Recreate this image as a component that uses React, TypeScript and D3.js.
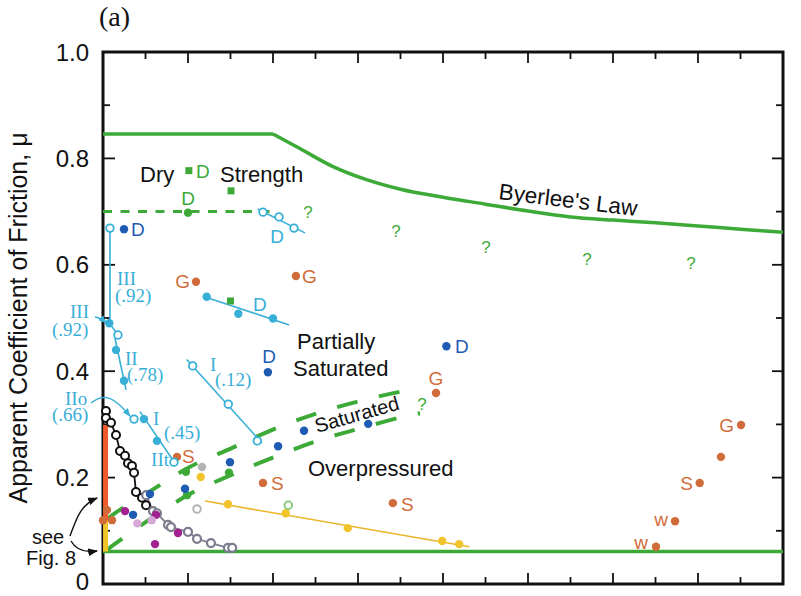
import React from "react";
import * as d3 from "d3";

// ---------------- data (x in 100 MPa units, y = apparent friction) ----------------
const yTickValues = [0, 0.2, 0.4, 0.6, 0.8, 1.0];
const yTickLabels = ["0", "0.2", "0.4", "0.6", "0.8", "1.0"];
const yMinorTicks = [0.1, 0.3, 0.5, 0.7, 0.9];
const xMajorTicks = [1, 2, 3, 4, 5, 6, 7];
const xMinorTicks = [0.5, 1.5, 2.5, 3.5, 4.5, 5.5, 6.5, 7.5];

const byerleeFlat = [[0, 0.846], [2.0, 0.846]];
const byerleeCurve = [[2.0, 0.846], [2.3, 0.82], [2.7, 0.785], [3.1, 0.76], [3.5, 0.742], [4.0, 0.727], [4.5, 0.714], [5.0, 0.701], [5.5, 0.69], [6.0, 0.684], [6.5, 0.679], [7.0, 0.673], [7.5, 0.667], [8.0, 0.661]];
const hydrostatic = [[0, 0.061], [8, 0.061]];
const dryLine = [[0, 0.7], [2.0, 0.7]];
const bandUpper = [[0.04, 0.121], [0.13, 0.132], [0.58, 0.177], [1.02, 0.22], [1.52, 0.256], [2.04, 0.293], [2.54, 0.322], [3.07, 0.346], [3.61, 0.365], [3.73, 0.368]];
const bandLower = [[0.03, 0.062], [0.12, 0.073], [0.48, 0.114], [1.02, 0.169], [1.54, 0.207], [2.05, 0.241], [2.56, 0.271], [3.08, 0.295], [3.62, 0.318], [3.73, 0.321]];

const greenSquares = [[1.01, 0.777], [1.506, 0.739], [1.5, 0.532]];
const greenDots = [[1.0, 0.698], [0.976, 0.211], [0.988, 0.167], [1.482, 0.209]];
const greenOpen = [[2.18, 0.148]];
const blueDots = [[0.247, 0.667], [1.94, 0.398], [4.04, 0.447], [2.365, 0.288], [3.12, 0.301], [2.06, 0.259], [1.494, 0.229], [0.965, 0.179], [0.553, 0.169], [0.353, 0.13]];
const orangeDots = [[1.094, 0.568], [2.27, 0.579], [3.918, 0.359], [0.871, 0.239], [1.882, 0.19], [3.41, 0.152], [7.506, 0.299], [7.27, 0.239], [7.02, 0.19], [6.73, 0.118], [6.506, 0.07], [0.047, 0.139], [0.0, 0.12], [0.106, 0.12]];
const yellowDots = [[1.15, 0.201]];
const lightGrayDots = [[1.165, 0.22]];
const lightGrayOpen = [[1.106, 0.141]];
const purpleDots = [[0.259, 0.137], [0.624, 0.13], [0.882, 0.096], [0.612, 0.075]];
const pinkDots = [[0.404, 0.114], [0.573, 0.12]];

const redBar = [[0.03, 0.12], [0.03, 0.299]];
const yellowBar = [[0.03, 0.061], [0.03, 0.12]];

// cyan series
const cyanTopLine = [[1.82, 0.705], [2.376, 0.66]];
const cyanTopOpen = [[1.882, 0.699], [2.071, 0.69], [2.247, 0.669]];
const cyanMidLine = [[1.176, 0.541], [2.19, 0.487]];
const cyanMidFilled = [[1.22, 0.54], [1.592, 0.508], [2.0, 0.499]];
const cyanIIILine = [[0.082, 0.669], [0.082, 0.489], [0.176, 0.468]];
const cyanIIIOpen = [[0.082, 0.669], [0.176, 0.468]];
const cyanIIIFilled = [[0.074, 0.49]];
const cyanIILine = [[0.141, 0.462], [0.271, 0.365]];
const cyanIIFilled = [[0.153, 0.44], [0.247, 0.382]];
const cyanI12Line = [[0.985, 0.422], [1.87, 0.265]];
const cyanI12Open = [[1.055, 0.41], [1.474, 0.338], [1.815, 0.269]];
const cyanI45Line = [[0.435, 0.324], [0.847, 0.227]];
const cyanI45Open = [[0.365, 0.31], [0.835, 0.229]];
const cyanI45Filled = [[0.482, 0.31], [0.635, 0.269]];

// black & gray experimental series
const blackSeries = [[0.035, 0.325], [0.035, 0.312], [0.094, 0.303], [0.153, 0.28], [0.2, 0.25], [0.259, 0.241], [0.294, 0.227], [0.341, 0.222], [0.365, 0.209], [0.388, 0.173], [0.459, 0.162], [0.506, 0.148]];
const graySeries = [[0.508, 0.167], [0.588, 0.137], [0.635, 0.133], [0.765, 0.111], [0.8, 0.107], [1.0, 0.098], [1.106, 0.085], [1.27, 0.077], [1.47, 0.068], [1.52, 0.068]];

// yellow series
const yellowLine = [[1.2, 0.156], [4.31, 0.07]];
const yellowFilled = [[1.47, 0.15], [2.15, 0.133], [2.88, 0.105], [3.99, 0.081], [4.19, 0.075]];

// ---------------- layout ----------------
const W = 801;
const H = 596;
const L = 103, R = 783, T = 52, B = 584;

const x = d3.scaleLinear().domain([0, 8]).range([L, R]);
const y = d3.scaleLinear().domain([0, 1]).range([B, T]);
const line = d3.line<number[]>().x((d) => x(d[0])).y((d) => y(d[1]));
const smooth = d3.line<number[]>().x((d) => x(d[0])).y((d) => y(d[1])).curve(d3.curveMonotoneX);
const smoothBand = d3.line<number[]>().x((d) => x(d[0])).y((d) => y(d[1])).curve(d3.curveCatmullRom);

const GREEN = "#3DAA38";
const CYAN = "#38AFD6";
const BLUE = "#1E5CB3";
const ORANGE = "#D06C3A";
const REDBAR = "#F05A2C";
const YELLOW = "#F2C42C";
const YLINE = "#EAB52A";
const PURPLE = "#A3228F";
const PINK = "#D5A8D8";
const GRAY = "#7C7C8E";
const LGRAY = "#B4B4B4";

const SANS = "'Liberation Sans', Arial, Helvetica, sans-serif";
const SERIF = "'Liberation Serif', 'Times New Roman', serif";

function Dots({ data, r = 4.2, fill, stroke = "none", sw = 0 }: any) {
  return (
    <g>
      {data.map((d: number[], i: number) => (
        <circle key={i} cx={x(d[0])} cy={y(d[1])} r={r} fill={fill} stroke={stroke} strokeWidth={sw} />
      ))}
    </g>
  );
}
function Open({ data, r = 3.8, color, sw = 1.8 }: any) {
  return <Dots data={data} r={r} fill="#fff" stroke={color} sw={sw} />;
}
function Squares({ data, s = 7, fill }: any) {
  return (
    <g>
      {data.map((d: number[], i: number) => (
        <rect key={i} x={x(d[0]) - s / 2} y={y(d[1]) - s / 2} width={s} height={s} fill={fill} />
      ))}
    </g>
  );
}
function Path({ data, gen = line, color, sw = 2, dash }: any) {
  return <path d={gen(data) || ""} fill="none" stroke={color} strokeWidth={sw} strokeDasharray={dash} />;
}
function Txt({ px, py, children, size = 19, color = "#111", anchor = "start", font = SANS, rotate = 0 }: any) {
  return (
    <text
      x={0}
      y={0}
      transform={`translate(${px},${py}) rotate(${rotate})`}
      fontSize={size}
      fill={color}
      textAnchor={anchor}
      fontFamily={font}
    >
      {children}
    </text>
  );
}

export default function App() {
  return (
    <svg width={W} height={H} style={{ position: "absolute", left: 0, top: 0, background: "#fff" }}>
      <defs>
        <marker id="arrK" viewBox="0 0 10 10" refX="9" refY="5" markerWidth="7" markerHeight="7" orient="auto">
          <path d="M0,1 L10,5 L0,9 z" fill="#111" />
        </marker>
        <marker id="arrC" viewBox="0 0 10 10" refX="9" refY="5" markerWidth="6" markerHeight="6" orient="auto">
          <path d="M0,1 L10,5 L0,9 z" fill={CYAN} />
        </marker>
      </defs>
      <rect x={0} y={0} width={W} height={H} fill="#fff" />

      {/* title */}
      <Txt px={99} py={26} size={28} font={SERIF}>(a)</Txt>

      {/* frame & ticks */}
      <rect x={L} y={T} width={R - L} height={B - T} fill="none" stroke="#111" strokeWidth={3} />
      {yTickValues.map((v, i) => (
        <g key={"yt" + i}>
          <line x1={L} x2={L + 12} y1={y(v)} y2={y(v)} stroke="#111" strokeWidth={1.8} />
          <line x1={R} x2={R - 11} y1={y(v)} y2={y(v)} stroke="#111" strokeWidth={1.8} />
          <text x={89} y={Math.min(y(v) + 8.5, 590)} textAnchor="end" fontSize={24} fontFamily={SANS} fill="#111">
            {yTickLabels[i]}
          </text>
        </g>
      ))}
      {yMinorTicks.map((v, i) => (
        <g key={"ym" + i}>
          <line x1={L} x2={L + 7} y1={y(v)} y2={y(v)} stroke="#111" strokeWidth={1.8} />
          <line x1={R} x2={R - 7} y1={y(v)} y2={y(v)} stroke="#111" strokeWidth={1.8} />
        </g>
      ))}
      {xMajorTicks.map((v, i) => (
        <g key={"xt" + i}>
          <line x1={x(v)} x2={x(v)} y1={B} y2={B - 11} stroke="#111" strokeWidth={1.8} />
          <line x1={x(v)} x2={x(v)} y1={T} y2={T + 11} stroke="#111" strokeWidth={1.8} />
        </g>
      ))}
      {xMinorTicks.map((v, i) => (
        <g key={"xm" + i}>
          <line x1={x(v)} x2={x(v)} y1={B} y2={B - 7} stroke="#111" strokeWidth={1.8} />
          <line x1={x(v)} x2={x(v)} y1={T} y2={T + 7} stroke="#111" strokeWidth={1.8} />
        </g>
      ))}

      {/* y label */}
      <Txt px={27} py={318} size={25} anchor="middle" rotate={-90}>Apparent Coefficient of Friction, μ</Txt>

      {/* green reference lines */}
      <Path data={byerleeFlat} color={GREEN} sw={3.5} />
      <Path data={byerleeCurve} gen={smooth} color={GREEN} sw={3.5} />
      <Path data={hydrostatic} color={GREEN} sw={3.5} />
      <Path data={dryLine} color={GREEN} sw={3} dash="9 8.5" />
      <Path data={bandUpper} gen={smoothBand} color={GREEN} sw={4} dash="21 22" />
      <Path data={bandLower} gen={smoothBand} color={GREEN} sw={4} dash="21 22" />

      {/* bars on the axis */}
      <Path data={redBar} color={REDBAR} sw={5} />
      <Path data={yellowBar} color={YELLOW} sw={5} />

      {/* series lines */}
      <Path data={cyanTopLine} color={CYAN} sw={1.6} />
      <Path data={cyanMidLine} color={CYAN} sw={1.6} />
      <Path data={cyanIIILine} color={CYAN} sw={1.6} />
      <Path data={cyanIILine} color={CYAN} sw={1.6} />
      <Path data={cyanI12Line} color={CYAN} sw={1.6} />
      <Path data={cyanI45Line} color={CYAN} sw={1.6} />
      <Path data={blackSeries} color="#111" sw={1.8} />
      <Path data={graySeries} color={GRAY} sw={1.8} />
      <Path data={yellowLine} color={YLINE} sw={1.6} />

      {/* markers */}
      <Open data={blackSeries} color="#111" r={4} sw={2} />
      <Open data={graySeries} color={GRAY} r={4} sw={2.2} />
      <Dots data={purpleDots} fill={PURPLE} />
      <Dots data={pinkDots} fill={PINK} />
      <Dots data={yellowFilled} fill={YELLOW} />
      <Dots data={yellowDots} fill={YELLOW} />
      <Dots data={lightGrayDots} fill={LGRAY} />
      <Open data={lightGrayOpen} color={LGRAY} sw={2} />
      <Open data={greenOpen} color="#7DC86F" sw={1.8} />
      <Squares data={greenSquares} fill={GREEN} />
      <Dots data={greenDots} fill={GREEN} />
      <Dots data={blueDots} fill={BLUE} />
      <Dots data={orangeDots} fill={ORANGE} />
      <Open data={cyanTopOpen} color={CYAN} />
      <Dots data={cyanMidFilled} fill={CYAN} />
      <Open data={cyanIIIOpen} color={CYAN} />
      <Dots data={cyanIIIFilled} fill={CYAN} />
      <Dots data={cyanIIFilled} fill={CYAN} />
      <Open data={cyanI12Open} color={CYAN} />
      <Open data={cyanI45Open} color={CYAN} />
      <Dots data={cyanI45Filled} fill={CYAN} />

      {/* region labels */}
      <Txt px={140} py={182} size={22}>Dry</Txt>
      <Txt px={220} py={182} size={22}>Strength</Txt>
      <Txt px={297} py={349} size={22}>Partially</Txt>
      <Txt px={293} py={376} size={22}>Saturated</Txt>
      <Txt px={308} py={476} size={22}>Overpressured</Txt>
      <Txt px={317} py={433} size={20} rotate={-16}>Saturated</Txt>
      <Txt px={498} py={199} size={22.5} rotate={7}>Byerlee's Law</Txt>

      {/* point letters */}
      <Txt px={196} py={178} color={GREEN}>D</Txt>
      <Txt px={188} py={205} color={GREEN} anchor="middle">D</Txt>
      <Txt px={277} py={243} color={CYAN} anchor="middle">D</Txt>
      <Txt px={131} py={236} color={BLUE}>D</Txt>
      <Txt px={190} py={288} color={ORANGE} anchor="end">G</Txt>
      <Txt px={302} py={283} color={ORANGE}>G</Txt>
      <Txt px={253} py={311} color={CYAN}>D</Txt>
      <Txt px={269} py={363} color={BLUE} anchor="middle">D</Txt>
      <Txt px={455} py={353} color={BLUE}>D</Txt>
      <Txt px={436} py={385} color={ORANGE} anchor="middle">G</Txt>
      <Txt px={182} py={463} color={ORANGE}>S</Txt>
      <Txt px={271} py={490} color={ORANGE}>S</Txt>
      <Txt px={401} py={511} color={ORANGE}>S</Txt>
      <Txt px={734} py={432} color={ORANGE} anchor="end">G</Txt>
      <Txt px={693} py={490} color={ORANGE} anchor="end">S</Txt>
      <Txt px={668} py={526} color={ORANGE} anchor="end">w</Txt>
      <Txt px={648} py={549} color={ORANGE} anchor="end">w</Txt>

      {/* question marks */}
      <Txt px={308} py={218} size={17} color={GREEN} anchor="middle">?</Txt>
      <Txt px={396} py={237} size={17} color={GREEN} anchor="middle">?</Txt>
      <Txt px={486} py={253} size={17} color={GREEN} anchor="middle">?</Txt>
      <Txt px={587} py={265} size={17} color={GREEN} anchor="middle">?</Txt>
      <Txt px={691} py={269} size={17} color={GREEN} anchor="middle">?</Txt>
      <Txt px={422} py={410} size={17} color={GREEN} anchor="middle">?</Txt>

      {/* cyan roman labels */}
      <Txt px={117} py={285} size={19} color={CYAN} font={SERIF}>III</Txt>
      <Txt px={115} py={302} size={19} color={CYAN} font={SERIF}>(.92)</Txt>
      <Txt px={70} py={318} size={19} color={CYAN} font={SERIF}>III</Txt>
      <Txt px={52} py={336} size={19} color={CYAN} font={SERIF}>(.92)</Txt>
      <Txt px={125} py={365} size={19} color={CYAN} font={SERIF}>II</Txt>
      <Txt px={127} py={381} size={19} color={CYAN} font={SERIF}>(.78)</Txt>
      <Txt px={65} py={405} size={19} color={CYAN} font={SERIF}>IIo</Txt>
      <Txt px={52} py={421} size={19} color={CYAN} font={SERIF}>(.66)</Txt>
      <Txt px={153} py={425} size={19} color={CYAN} font={SERIF}>I</Txt>
      <Txt px={164} py={439} size={19} color={CYAN} font={SERIF}>(.45)</Txt>
      <Txt px={169} py={466} size={19} color={CYAN} font={SERIF} anchor="end">IIt</Txt>
      <Txt px={210} py={371} size={19} color={CYAN} font={SERIF}>I</Txt>
      <Txt px={215} py={386} size={19} color={CYAN} font={SERIF}>(.12)</Txt>

      {/* cyan arrows */}
      <path d="M95,317 Q101,318 106,323" fill="none" stroke={CYAN} strokeWidth={1.4} markerEnd="url(#arrC)" />
      <path d="M91,403 C105,392 115,398 130,416" fill="none" stroke={CYAN} strokeWidth={1.4} markerEnd="url(#arrC)" />

      {/* see Fig. 8 */}
      <Txt px={48} py={544} size={20} anchor="middle">see</Txt>
      <Txt px={51} py={565} size={20} anchor="middle">Fig. 8</Txt>
      <path d="M70,536 C76,520 80,505 97,498" fill="none" stroke="#111" strokeWidth={1.4} markerEnd="url(#arrK)" />
      <path d="M71,541 C76,550 84,553 97,551" fill="none" stroke="#111" strokeWidth={1.4} markerEnd="url(#arrK)" />
    </svg>
  );
}
